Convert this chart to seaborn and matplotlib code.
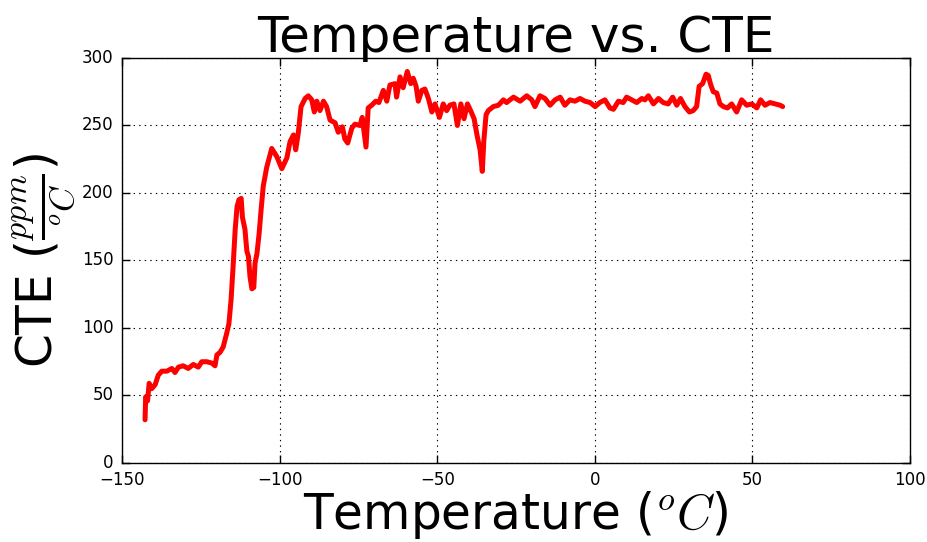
import matplotlib
matplotlib.use("Agg")
import matplotlib.pyplot as plt
import seaborn as sns
import pandas as pd

temperature = [
    -142.7, -142.5, -141.9, -141.4, -140.6, -139.5, -138.5, -137.4, -135.8, -134.2,
    -133.2, -132.1, -130.6, -129.0, -127.4, -125.8, -124.7, -123.1, -121.5, -120.5,
    -119.9, -118.9, -117.9, -116.8, -116.1, -115.4, -114.7, -114.1, -113.5, -112.9,
    -112.2, -111.8, -111.0, -110.4, -109.9, -109.4, -108.8, -108.2, -107.8, -107.2,
    -106.5, -105.9, -105.2, -104.1, -102.5, -100.9, -99.3, -97.7, -96.7, -95.6,
    -94.9, -94.1, -93.2, -91.9, -90.9, -89.8, -89.0, -88.2, -87.2, -86.1,
    -85.1, -84.0, -82.4, -81.4, -80.1, -79.3, -78.4, -77.1, -76.1, -74.5,
    -73.8, -72.6, -71.9, -70.8, -69.5, -68.5, -67.1, -66.0, -65.0, -63.4,
    -62.9, -61.8, -60.8, -59.5, -58.4, -57.6, -56.7, -56.0, -54.9, -53.9,
    -52.8, -51.7, -50.7, -49.3, -48.1, -47.0, -46.0, -44.7, -43.6, -42.5,
    -41.5, -40.4, -39.4, -38.3, -37.3, -36.4, -35.7, -35.2, -34.5, -33.8,
    -32.2, -30.6, -29.0, -28.0, -25.8, -23.7, -21.6, -20.0, -19.0, -17.4,
    -15.8, -14.2, -12.6, -11.0, -9.5, -7.9, -6.3, -4.7, -3.1, -1.5,
    0.1, 1.6, 3.2, 4.8, 5.9, 7.5, 9.0, 10.1, 11.7, 13.3,
    14.9, 15.9, 17.0, 18.6, 20.2, 21.7, 23.3, 24.7, 26.0, 27.2,
    28.6, 30.0, 31.2, 32.3, 33.1, 34.2, 35.3, 36.0, 36.8, 37.6,
    38.7, 39.7, 40.8, 42.1, 43.4, 45.0, 46.6, 48.2, 49.8, 51.4,
    52.6, 54.0, 55.6, 57.2, 58.8, 59.6,
]
cte = [
    32, 49, 46, 59, 55, 58, 65, 68, 68, 70,
    67, 71, 72, 70, 73, 71, 75, 75, 74, 72,
    80, 82, 86, 96, 103, 121, 148, 173, 190, 195,
    196, 182, 173, 157, 153, 138, 129, 130, 148, 155,
    170, 187, 205, 219, 233, 227, 218, 226, 238, 243,
    232, 244, 264, 270, 272, 269, 260, 268, 261, 268,
    264, 254, 252, 245, 249, 240, 237, 248, 251, 250,
    256, 234, 263, 265, 268, 267, 276, 268, 280, 281,
    271, 286, 278, 290, 281, 285, 279, 268, 276, 277,
    270, 260, 266, 256, 266, 261, 265, 266, 250, 266,
    255, 266, 261, 255, 242, 232, 216, 239, 258, 261,
    264, 265, 269, 267, 271, 268, 272, 269, 264, 272,
    270, 265, 269, 271, 265, 269, 268, 270, 268, 267,
    264, 267, 269, 263, 262, 268, 267, 271, 269, 267,
    270, 269, 272, 266, 270, 267, 266, 271, 265, 270,
    264, 260, 261, 264, 279, 281, 288, 287, 280, 275,
    274, 266, 264, 263, 266, 260, 269, 265, 266, 263,
    269, 265, 267, 266, 265, 264,
]
x_ticks = [-150, -100, -50, 0, 50, 100]
y_ticks = [0, 50, 100, 150, 200, 250, 300]

df = pd.DataFrame({"Temperature": temperature, "CTE": cte})

plt.style.use("classic")
sns.set_style("ticks", {"xtick.direction": "in", "ytick.direction": "in",
                        "text.color": "black", "axes.labelcolor": "black",
                        "xtick.color": "black", "ytick.color": "black",
                        "axes.edgecolor": "black"})
plt.rcParams["mathtext.fontset"] = "cm"
plt.rcParams["font.family"] = ["DejaVu Sans"]
plt.rcParams["text.color"] = "black"

fig = plt.figure(figsize=(9.28, 5.42), dpi=100, facecolor="white")
ax = fig.add_axes([0.1315, 0.1458, 0.8491, 0.7472])
ax.set_facecolor("white")

sns.lineplot(data=df, x="Temperature", y="CTE", ax=ax, color="red",
             linewidth=3.6, estimator=None, sort=False)

ax.set_xlim(-150, 100)
ax.set_ylim(0, 300)
ax.set_xticks(x_ticks)
ax.set_yticks(y_ticks)
ax.tick_params(axis="both", which="both", direction="in", top=True, right=True,
               labelsize=12, length=6, width=1, colors="black",
               labelcolor="black")
ax.tick_params(axis="y", pad=6)
ax.tick_params(axis="x", pad=6)
ax.grid(True, linestyle=":", color="black", linewidth=0.8)
for s in ax.spines.values():
    s.set_visible(True)
    s.set_color("black")
    s.set_linewidth(1)

ax.set_title("Temperature vs. CTE", fontsize=36, pad=4, color="black")
ax.set_xlabel(r"Temperature ($^oC$)", fontsize=35, labelpad=0, color="black")
ax.set_ylabel(r"CTE ($\frac{ppm}{^oC}$)", fontsize=35, labelpad=3, color="black")

fig.savefig("out.png", dpi=100, facecolor="white")
